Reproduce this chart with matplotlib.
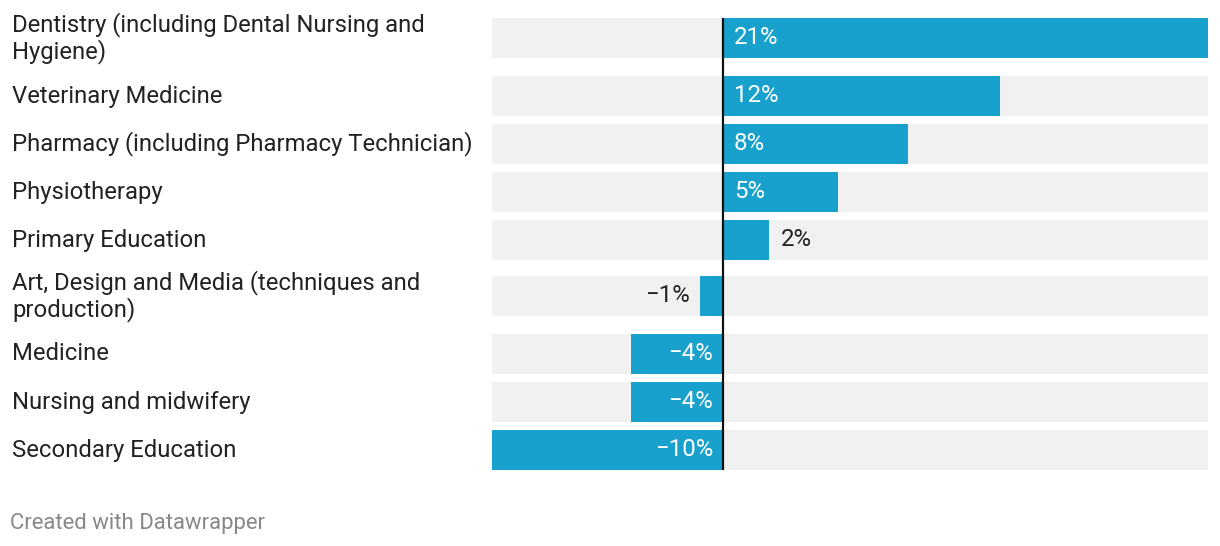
import matplotlib.pyplot as plt
from matplotlib.transforms import blended_transform_factory

# Data
categories = [
    "Dentistry (including Dental Nursing and\nHygiene)",
    "Veterinary Medicine",
    "Pharmacy (including Pharmacy Technician)",
    "Physiotherapy",
    "Primary Education",
    "Art, Design and Media (techniques and\nproduction)",
    "Medicine",
    "Nursing and midwifery",
    "Secondary Education",
]
values = [21, 12, 8, 5, 2, -1, -4, -4, -10]
value_labels = ["21%", "12%", "8%", "5%", "2%", "\u22121%", "\u22124%", "\u22124%", "\u221210%"]

W, H = 1220, 546
BLUE = "#18a1cd"
GREY_BG = "#f1f1f1"

plt.rcParams['font.family'] = ['Roboto', 'DejaVu Sans']

fig = plt.figure(figsize=(W / 100, H / 100), dpi=100)
ax = fig.add_axes([492 / W, 0, (1208 - 492) / W, 1])
ax.set_xlim(min(values), max(values))
ax.set_ylim(H, 0)
ax.axis('off')

# row centres in pixels; two-line labels get extra room
centres = []
y = 38
for i, cat in enumerate(categories):
    two = "\n" in cat
    if i > 0:
        y += 48
        if two:
            y += 8
    centres.append(y)
    if two:
        y += 10

bar_h = 40
xmin, xmax = ax.get_xlim()
ax.barh(centres, [xmax - xmin] * len(values), left=xmin, height=bar_h,
        color=GREY_BG, zorder=1)
ax.barh(centres, values, height=bar_h, color=BLUE, zorder=2)
ax.plot([0, 0], [centres[0] - bar_h / 2, centres[-1] + bar_h / 2],
        color="#111111", lw=1.6, zorder=3, solid_capstyle='butt')

px_per_unit = (1208 - 492) / (xmax - xmin)
for c, v, lab in zip(centres, values, value_labels):
    inside = abs(v) * px_per_unit > 60
    if v >= 0:
        if inside:
            ax.annotate(lab, (0, c), xytext=(11, 0), textcoords='offset pixels',
                        ha='left', va='center', color='white', fontsize=17.3, zorder=4)
        else:
            ax.annotate(lab, (v, c), xytext=(12, 0), textcoords='offset pixels',
                        ha='left', va='center', color='#222222', fontsize=17.3, zorder=4)
    else:
        if inside:
            ax.annotate(lab, (0, c), xytext=(-10, 0), textcoords='offset pixels',
                        ha='right', va='center', color='white', fontsize=17.3, zorder=4)
        else:
            ax.annotate(lab, (v, c), xytext=(-10, 0), textcoords='offset pixels',
                        ha='right', va='center', color='#222222', fontsize=17.3, zorder=4)

# category labels
trans = blended_transform_factory(fig.transFigure, ax.transData)
for c, cat in zip(centres, categories):
    ax.text(12 / W, c, cat, transform=trans, ha='left', va='center',
            fontsize=17.2, color='#222222', linespacing=1.09)

fig.text(10 / W, 1 - 524 / H, "Created with Datawrapper", ha='left', va='center',
         fontsize=15.9, color='#888888')

fig.savefig("out.png", dpi=100, facecolor='white')
